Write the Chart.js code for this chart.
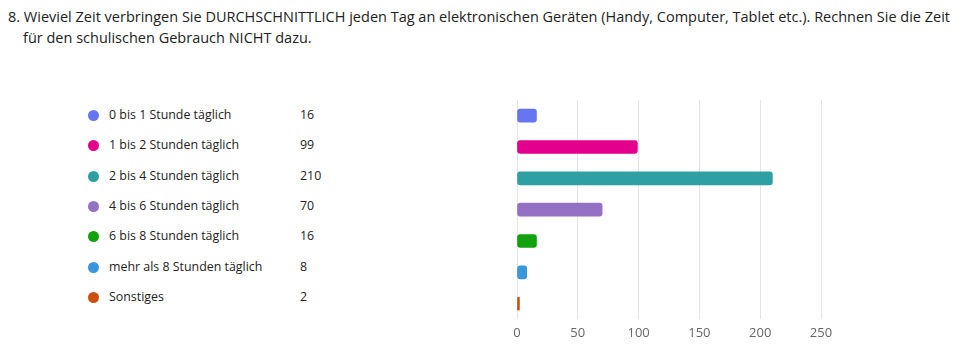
<!DOCTYPE html>
<html>
<head>
<meta charset="utf-8">
<script src="https://cdn.jsdelivr.net/npm/chart.js@4/dist/chart.umd.min.js"></script>
<style>
    body { margin: 0; background: #fff; font-family: "Open Sans", "Noto Sans", sans-serif; color: #222; }
    #title { position: absolute; left: 8px; top: 6px; width: 950px; font-size: 14.5px; line-height: 21px; }
    #title .indent { padding-left: 15px; }
    #legend { position: absolute; left: 88px; top: 100px; font-size: 12.4px; }
    .row { position: absolute; left: 0; height: 30px; line-height: 30px; white-space: nowrap; }
    .dot { position: absolute; left: 0; top: 10px; width: 11px; height: 11px; border-radius: 50%; }
    .lbl { position: absolute; left: 21px; }
    .val { position: absolute; left: 212px; }
    #wrap { position: absolute; left: 500px; top: 95px; width: 340px; height: 252px; }
</style>
</head>
<body>
<div id="title">8. Wieviel Zeit verbringen Sie DURCHSCHNITTLICH jeden Tag an elektronischen Geräten (Handy, Computer, Tablet etc.). Rechnen Sie die Zeit<br><span class="indent">für den schulischen Gebrauch NICHT dazu.</span></div>
<div id="legend"></div>
<div id="wrap"><canvas id="myChart"></canvas></div>
<script>
const categories = [
    '0 bis 1 Stunde täglich',
    '1 bis 2 Stunden täglich',
    '2 bis 4 Stunden täglich',
    '4 bis 6 Stunden täglich',
    '6 bis 8 Stunden täglich',
    'mehr als 8 Stunden täglich',
    'Sonstiges'
];
const counts = [16, 99, 210, 70, 16, 8, 2];
const colors = ['#6675F0', '#E3008C', '#2E9FA2', '#9471C4', '#13A10E', '#3A96DD', '#CA5010'];
const xTicks = [0, 50, 100, 150, 200, 250];

// legend on the left
const legend = document.getElementById("legend");
categories.forEach((name, i) => {
    const row = document.createElement("div");
    row.className = "row";
    row.style.top = (i * 30.3) + "px";
    row.innerHTML = '<span class="dot" style="background:' + colors[i] + '"></span>' +
        '<span class="lbl">' + name + '</span><span class="val">' + counts[i] + '</span>';
    legend.appendChild(row);
});

new Chart(document.getElementById("myChart"), {
    type: 'bar',
    data: {
        labels: categories,
        datasets: [{
            data: counts,
            backgroundColor: colors,
            borderWidth: 0,
            borderRadius: 3,
            borderSkipped: false,
            barThickness: 13
        }]
    },
    options: {
        indexAxis: 'y',
        animation: false,
        responsive: true,
        maintainAspectRatio: false,
        layout: { padding: { left: 17, right: 19, top: 5, bottom: 0 } },
        plugins: { legend: { display: false }, tooltip: { enabled: false } },
        scales: {
            y: { display: false },
            x: {
                min: 0,
                max: 250,
                afterBuildTicks: axis => { axis.ticks = xTicks.map(v => ({ value: v })); },
                ticks: {
                    color: '#666',
                    font: { family: '"Open Sans", sans-serif', size: 13 },
                    padding: 6
                },
                grid: { color: '#e4e4e4', drawTicks: false },
                border: { display: false }
            }
        }
    }
});
</script>
</body>
</html>
